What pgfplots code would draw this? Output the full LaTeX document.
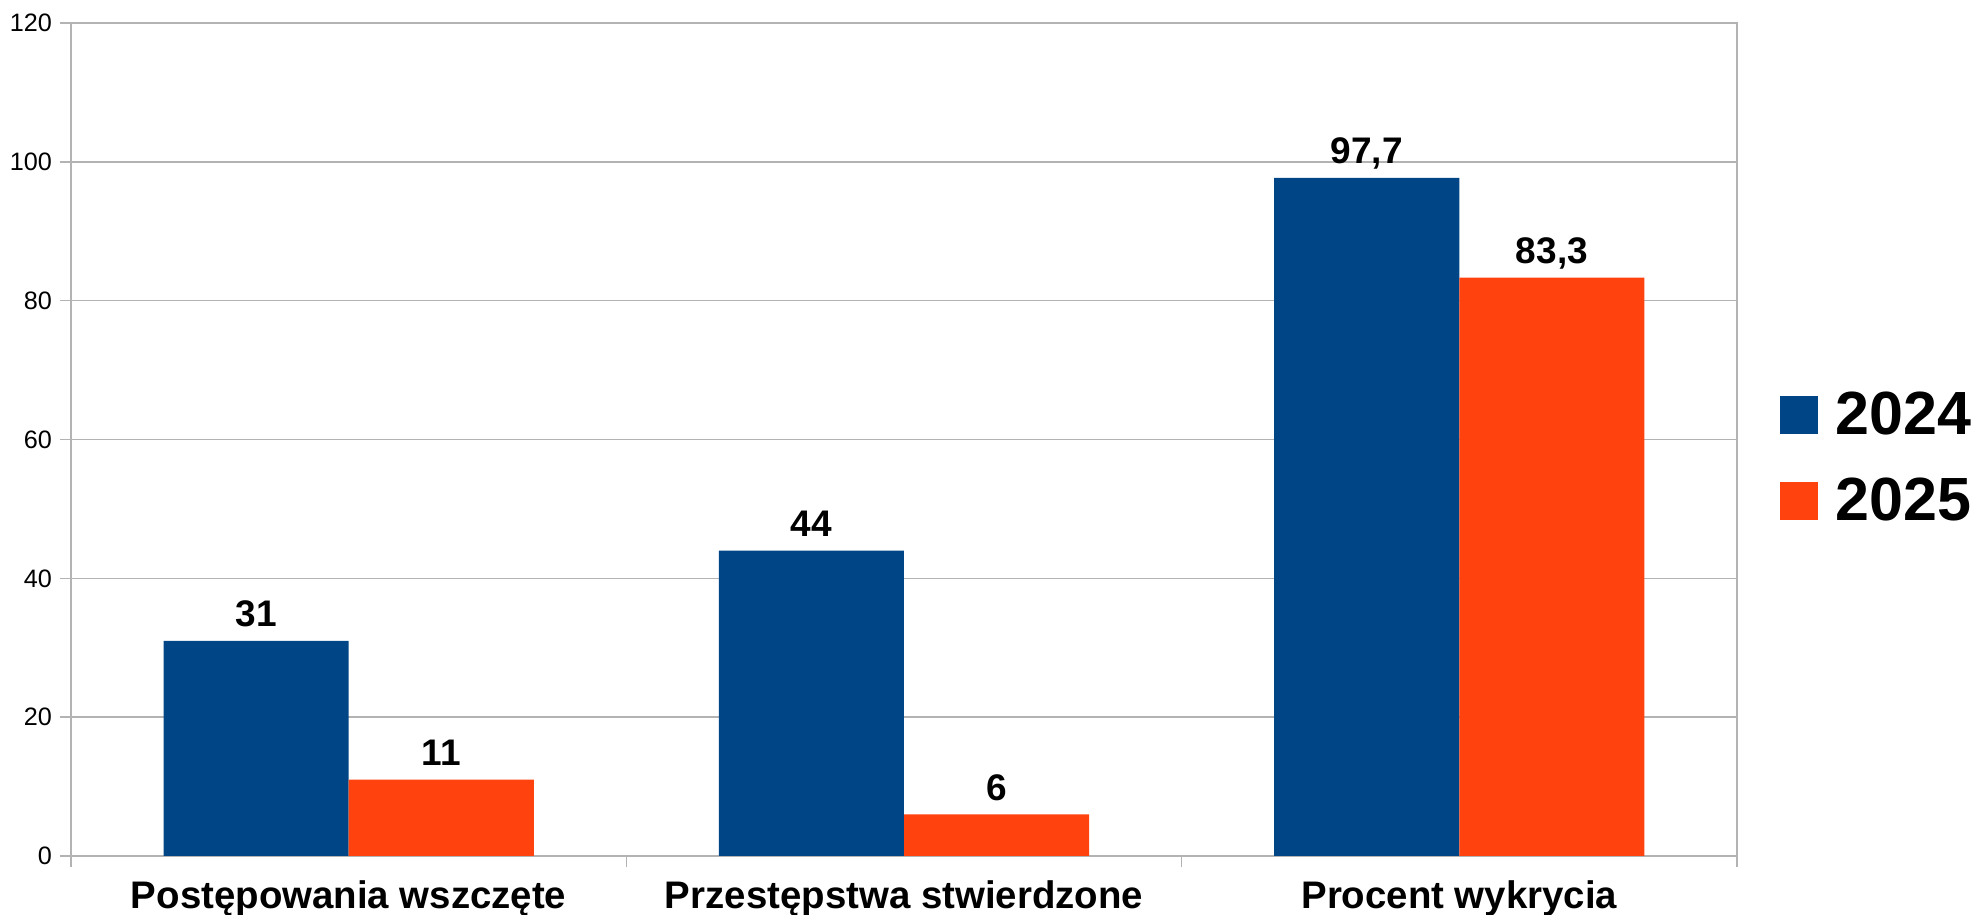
\documentclass[border=0pt]{standalone}
\usepackage{fontspec}
\setmainfont{Liberation Sans}
\usepackage{pgfplots}
\pgfplotsset{compat=1.18}
\definecolor{c24}{HTML}{004586}
\definecolor{c25}{HTML}{FF420E}
\definecolor{gridgray}{HTML}{B3B3B3}

\begin{document}
\begin{tikzpicture}
\useasboundingbox (-35.5pt,-29.5pt) rectangle (956pt,428pt);
\begin{axis}[
    at={(0,0)}, anchor=south west,
    scale only axis, width=833pt, height=416.5pt,
    ybar, bar width=0.3333,
    xmin=-0.5, xmax=2.5, ymin=0, ymax=120,
    ytick={0,20,...,120},
    xtick={0,1,2},
    xticklabels={Postępowania wszczęte, Przestępstwa stwierdzone, Procent wykrycia},
    minor xtick={-0.5,0.5,1.5,2.5},
    major x tick style={draw=none},
    xtick pos=bottom, ytick pos=left,
    tick align=outside,
    major tick length=5.5pt, minor tick length=5.5pt,
    tick style={gridgray, line width=0.75pt},
    ymajorgrids, grid style={gridgray, line width=0.75pt},
    axis line style={gridgray, line width=0.75pt},
    /pgf/number format/assume math mode=true,
    yticklabel style={font=\fontsize{12.6}{15}\selectfont, inner sep=0pt, xshift=-3.8pt},
    xticklabel style={font=\fontsize{19.2}{23}\selectfont\bfseries, anchor=base, yshift=-20.8pt},
    nodes near coords,
    point meta=explicit symbolic,
    every node near coord/.append style={font=\fontsize{18.5}{22}\selectfont\bfseries, anchor=base, inner sep=0pt, yshift=7pt},
    legend image code/.code={\fill[#1,draw=none] (0pt,-9.5pt) rectangle (19pt,9.5pt);},
    legend cell align=left,
    legend style={at={(1,0.478)}, anchor=west, xshift=21.5pt, draw=none, fill=none,
        font=\fontsize{30.5}{36}\selectfont\bfseries, inner sep=0pt,
        nodes={inner sep=0pt}, row sep=20.5pt,
        /tikz/every odd column/.append style={column sep=8.5pt}},
]
\addplot[fill=c24, draw=none, bar shift=-0.16667] coordinates {(0,31) [31] (1,44) [44] (2,97.7) [{97,7}]};
\addplot[fill=c25, draw=none, bar shift=0.16667] coordinates {(0,11) [11] (1,6) [6] (2,83.3) [{83,3}]};
\legend{2024,2025}
\end{axis}
\end{tikzpicture}
\end{document}
